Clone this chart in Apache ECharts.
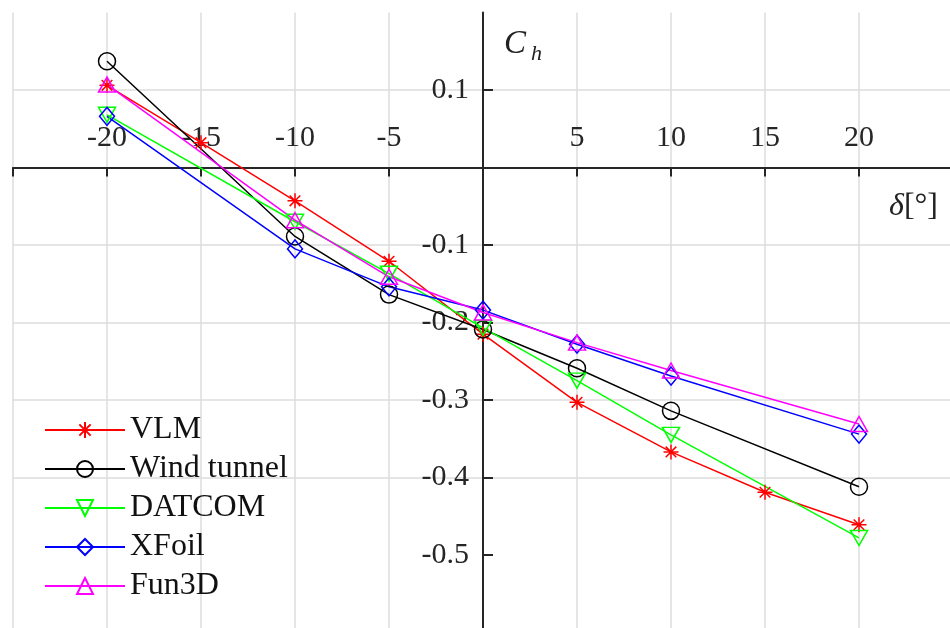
<!DOCTYPE html>
<html>
<head>
<meta charset="utf-8">
<script src="https://cdn.jsdelivr.net/npm/echarts@6/dist/echarts.min.js"></script>
<style>
  html, body { margin: 0; padding: 0; background: #fff; }
  #main { width: 950px; height: 628px; }
</style>
</head>
<body>
<div id="main"></div>
<script>
// deflection angles [deg]
var deltaAll = [-20, -15, -10, -5, 0, 5, 10, 15, 20];
var deltaSub = [-20, -10, -5, 0, 5, 10, 20];

// hinge moment coefficient Ch
var vlm        = [0.106, 0.032, -0.043, -0.121, -0.215, -0.303, -0.367, -0.419, -0.461];
var windTunnel = [0.137, -0.089, -0.164, -0.209, -0.259, -0.314, -0.412];
var datcom     = [0.068, -0.070, -0.137, -0.207, -0.275, -0.345, -0.478];
var xfoil      = [0.066, -0.105, -0.154, -0.184, -0.228, -0.269, -0.344];
var fun3d      = [0.107, -0.068, -0.141, -0.187, -0.226, -0.262, -0.331];

var xTickLabels = [-20, -15, -10, -5, 5, 10, 15, 20];
var yTickLabels = [0.1, -0.1, -0.2, -0.3, -0.4, -0.5];

var FONT = '"Liberation Serif", "DejaVu Serif", serif';
var starPath = 'path://M0,-10L0,10M-10,0L10,0M-7.07,-7.07L7.07,7.07M-7.07,7.07L7.07,-7.07';

// plot box (px) - the axes cross at (0,0) inside it
var G = { left: 13, right: -3, top: 12.5, bottom: -4.5, w: 940, h: 620 };
var X_MIN = -25, X_MAX = 25, Y_MIN = -0.6, Y_MAX = 0.2;
// move axis lines from the box edge to the zero lines
var xAxisOffset = -G.h * (0 - Y_MIN) / (Y_MAX - Y_MIN);
var yAxisOffset = -G.w * (0 - X_MIN) / (X_MAX - X_MIN);

function pairs(xs, ys) {
    var out = [];
    for (var i = 0; i < xs.length; i++) out.push([xs[i], ys[i]]);
    return out;
}

function mkSeries(name, xs, ys, color, symbol, size, rotate) {
    return {
        name: name,
        type: 'line',
        data: pairs(xs, ys),
        symbol: symbol,
        symbolSize: size,
        symbolRotate: rotate || 0,
        showAllSymbol: true,
        animation: false,
        lineStyle: { color: color, width: 1.5 },
        itemStyle: { color: 'rgba(0,0,0,0)', borderColor: color, borderWidth: 1.5 },
        emphasis: { disabled: true }
    };
}

var chart = echarts.init(document.getElementById('main'));

var option = {
    backgroundColor: '#ffffff',
    animation: false,
    grid: { left: G.left, right: G.right, top: G.top, bottom: G.bottom, containLabel: false, outerBoundsMode: 'none' },
    xAxis: {
        type: 'value',
        min: X_MIN, max: X_MAX, interval: 5,
        position: 'bottom', offset: xAxisOffset,
        axisLine: { onZero: false, lineStyle: { color: '#262626', width: 2 } },
        axisTick: { show: true, inside: false, length: 9, lineStyle: { color: '#262626', width: 2 } },
        axisLabel: {
            inside: true, margin: 14,
            customValues: xTickLabels,
            color: '#262626', fontFamily: FONT, fontSize: 30,
            formatter: function (v) { return String(v); }
        },
        splitLine: { show: true, lineStyle: { color: '#dddddd', width: 1.5 } }
    },
    yAxis: {
        type: 'value',
        min: Y_MIN, max: Y_MAX, interval: 0.1,
        position: 'left', offset: yAxisOffset,
        axisLine: { onZero: false, lineStyle: { color: '#262626', width: 2 } },
        axisTick: { show: true, inside: true, length: 10, customValues: yTickLabels,
            lineStyle: { color: '#262626', width: 2 } },
        axisLabel: {
            margin: 14,
            customValues: yTickLabels,
            color: '#262626', fontFamily: FONT, fontSize: 30,
            formatter: function (v) { return String(Math.round(v * 10) / 10); }
        },
        splitLine: { show: true, showMaxLine: false, lineStyle: { color: '#dddddd', width: 1.5 } }
    },
    legend: {
        orient: 'vertical',
        left: 39, top: 409,
        itemWidth: 80, itemHeight: 20, itemGap: 7,
        textStyle: { fontFamily: FONT, fontSize: 32, color: '#111', lineHeight: 29 },
        selectedMode: false,
        data: ['VLM', 'Wind tunnel', 'DATCOM', 'XFoil', 'Fun3D']
    },
    graphic: [
        { type: 'text', left: 504, top: 28, style: { text: 'C', fontFamily: FONT, fontStyle: 'italic', fontSize: 33, fill: '#222' } },
        { type: 'text', left: 531, top: 43, style: { text: 'h', fontFamily: FONT, fontStyle: 'italic', fontSize: 22, fill: '#222' } },
        { type: 'text', left: 889, top: 191, style: {
            text: '{d|δ}{b|[°]}',
            rich: {
                d: { fontFamily: FONT, fontStyle: 'italic', fontSize: 32, fill: '#222' },
                b: { fontFamily: FONT, fontSize: 32, fill: '#222' }
            } } }
    ],
    series: [
        mkSeries('VLM', deltaAll, vlm, '#ff0000', starPath, 15),
        mkSeries('Wind tunnel', deltaSub, windTunnel, '#000000', 'circle', 17),
        mkSeries('DATCOM', deltaSub, datcom, '#00ff00', 'triangle', [17, 15], 180),
        mkSeries('XFoil', deltaSub, xfoil, '#0000ff', 'diamond', [15, 18]),
        mkSeries('Fun3D', deltaSub, fun3d, '#ff00ff', 'triangle', [17, 15])
    ]
};

chart.setOption(option);
</script>
</body>
</html>
